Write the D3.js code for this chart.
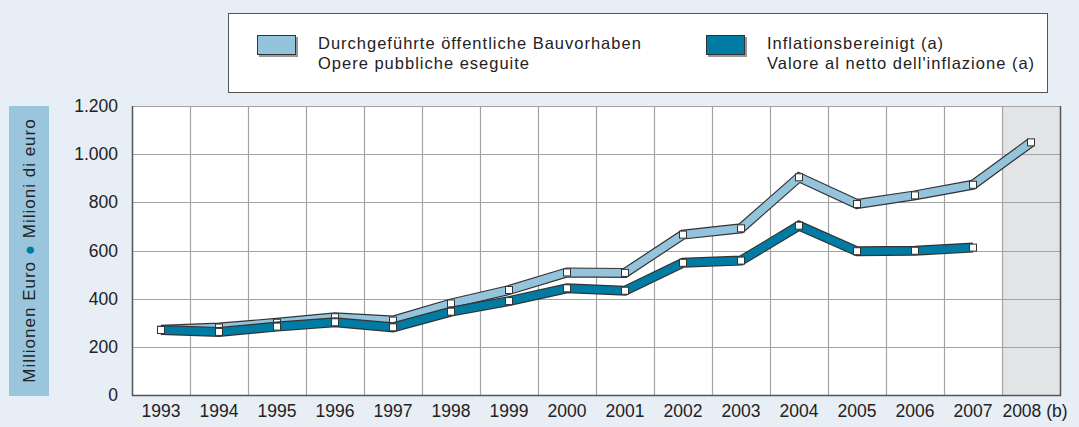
<!DOCTYPE html>
<html>
<head>
<meta charset="utf-8">
<script src="https://cdn.jsdelivr.net/npm/d3@7"></script>
<style>
  body { margin: 0; background: #e7eef5; }
  svg { display: block; font-family: "Liberation Sans", Arial, sans-serif; }
</style>
</head>
<body>
<div id="chart"></div>
<script>
// data
const years = ["1993","1994","1995","1996","1997","1998","1999","2000","2001","2002","2003","2004","2005","2006","2007","2008 (b)"];
const grossValues = [271,280,300,323,309,380,436,509,507,666,692,904,793,829,873,1049];
const realValues = [270,262,284,302,281,346,390,443,433,549,558,703,597,599,612];
const yTicks = [0,200,400,600,800,1000,1200];
const yTickLabels = ["0","200","400","600","800","1.000","1.200"];
const legendLabels = [
    ["Durchgeführte öffentliche Bauvorhaben", "Opere pubbliche eseguite"],
    ["Inflationsbereinigt (a)", "Valore al netto dell'inflazione (a)"]
];

function draw() {
    const svgwidth = 1079;
    const svgheight = 427;
    const plot = {left: 132, right: 1060, top: 106, bottom: 395};

    const col_light = "#94c3dc";
    const col_dark = "#007ba3";
    const outline = "#333";
    const grid_col = "#a3a3a3";
    const tick_size = 17.5;

    let svg = d3.select("#chart").append("svg")
        .attr("width", svgwidth)
        .attr("height", svgheight);

    svg.append("rect") // background
        .attr("width", svgwidth).attr("height", svgheight)
        .attr("fill", "#e7eef5");

    let xScale = d3.scaleBand()
        .domain(years)
        .range([plot.left, plot.right])
        .padding(0);
    let yScale = d3.scaleLinear()
        .domain([0, 1200])
        .range([plot.bottom, plot.top]);

    // plot area
    svg.append("rect")
        .attr("x", plot.left).attr("y", plot.top)
        .attr("width", plot.right - plot.left)
        .attr("height", plot.bottom - plot.top)
        .attr("fill", "white");
    svg.append("rect") // forecast column
        .attr("x", xScale(years[years.length-1]))
        .attr("y", plot.top)
        .attr("width", xScale.bandwidth())
        .attr("height", plot.bottom - plot.top)
        .attr("fill", "#e3e4e6");

    // grid
    let grid = svg.append("g").attr("class", "grid")
        .attr("stroke", grid_col).attr("stroke-width", 1.2);
    grid.selectAll("line.h")
        .data(yTicks.slice(1))
        .enter().append("line")
        .attr("class", "h")
        .attr("x1", plot.left).attr("x2", plot.right)
        .attr("y1", d => Math.round(yScale(d)) + 0.5)
        .attr("y2", d => Math.round(yScale(d)) + 0.5);
    grid.selectAll("line.v")
        .data(years.slice(1))
        .enter().append("line")
        .attr("class", "v")
        .attr("x1", d => Math.round(xScale(d)) + 0.5)
        .attr("x2", d => Math.round(xScale(d)) + 0.5)
        .attr("y1", plot.top).attr("y2", plot.bottom);

    // axes frame (left, bottom, right darker)
    svg.append("path")
        .attr("d", `M${plot.left+0.5},${plot.top} V${plot.bottom+0.5} H${plot.right+0.5} V${plot.top}`)
        .attr("fill", "none")
        .attr("stroke", "#555")
        .attr("stroke-width", 1.5);

    // y axis labels
    let yAxis = d3.axisLeft(yScale)
        .tickValues(yTicks)
        .tickFormat((d, i) => yTickLabels[i])
        .tickSize(0)
        .tickPadding(14);
    let yg = svg.append("g")
        .attr("transform", `translate(${plot.left},0)`)
        .call(yAxis);
    yg.select(".domain").remove();
    yg.selectAll("text")
        .style("font-size", tick_size + "px")
        .style("font-family", "Liberation Sans, Arial, sans-serif")
        .attr("fill", "#222");

    // x axis labels
    let xAxis = d3.axisBottom(xScale).tickSize(0).tickPadding(10);
    let xg = svg.append("g")
        .attr("transform", `translate(0,${plot.bottom})`)
        .call(xAxis);
    xg.select(".domain").remove();
    xg.selectAll("text")
        .style("font-size", tick_size + "px")
        .style("font-family", "Liberation Sans, Arial, sans-serif")
        .attr("fill", "#222")
        .attr("dx", (d, i) => i == years.length-1 ? 4 : 0);

    // y axis title box
    svg.append("rect")
        .attr("x", 9).attr("y", plot.top)
        .attr("width", 40).attr("height", plot.bottom - plot.top + 1)
        .attr("fill", "#99c6dc");
    let ytitle = svg.append("text")
        .attr("transform", `translate(35, ${(plot.top + plot.bottom)/2}) rotate(-90)`)
        .attr("text-anchor", "middle")
        .style("font-size", "17px")
        .style("letter-spacing", "1px")
        .attr("fill", "#222");
    ytitle.append("tspan").text("Millionen Euro ");
    ytitle.append("tspan").text("●").attr("fill", col_dark);
    ytitle.append("tspan").text(" Milioni di euro");

    // ribbons
    let line = d3.line()
        .x(d => xScale(d.year) + xScale.bandwidth()/2)
        .y(d => yScale(d.value))
        .curve(d3.curveLinear);
    let series = [
        {values: grossValues, color: col_light},
        {values: realValues, color: col_dark}
    ];
    series.forEach(s => {
        let pts = s.values.map((v, i) => ({year: years[i], value: v}));
        svg.append("path")
            .datum(pts)
            .attr("d", line)
            .attr("fill", "none")
            .attr("stroke", outline)
            .attr("stroke-width", 10)
            .attr("stroke-linejoin", "miter");
        svg.append("path")
            .datum(pts)
            .attr("d", line)
            .attr("fill", "none")
            .attr("stroke", s.color)
            .attr("stroke-width", 7.6)
            .attr("stroke-linejoin", "miter");
        svg.append("g").selectAll("rect")
            .data(pts)
            .enter().append("rect")
            .attr("x", d => xScale(d.year) + xScale.bandwidth()/2 - 3.5)
            .attr("y", d => yScale(d.value) - 3.5)
            .attr("width", 7).attr("height", 7)
            .attr("fill", "white")
            .attr("stroke", outline)
            .attr("stroke-width", 1);
    });

    // legend
    let legend = svg.append("g").attr("class", "legend");
    legend.append("rect")
        .attr("x", 228.5).attr("y", 13.5)
        .attr("width", 819).attr("height", 79)
        .attr("fill", "white")
        .attr("stroke", "#555")
        .attr("stroke-width", 1);
    let legendX = [257, 706];
    let legendCols = [col_light, col_dark];
    legendLabels.forEach((labs, i) => {
        let g = legend.append("g").attr("transform", `translate(${legendX[i]},35)`);
        g.append("rect") // shadow
            .attr("x", 2).attr("y", 2)
            .attr("width", 39).attr("height", 20)
            .attr("fill", "#999");
        g.append("rect")
            .attr("x", 0.5).attr("y", 0.5)
            .attr("width", 38).attr("height", 19)
            .attr("fill", legendCols[i])
            .attr("stroke", "#333");
        labs.forEach((t, j) => {
            g.append("text")
                .text(t)
                .attr("x", 61)
                .attr("y", 14 + j * 20)
                .style("font-size", "16.5px")
                .style("letter-spacing", "1px")
                .attr("fill", "#222");
        });
    });
}

draw();
</script>
</body>
</html>
